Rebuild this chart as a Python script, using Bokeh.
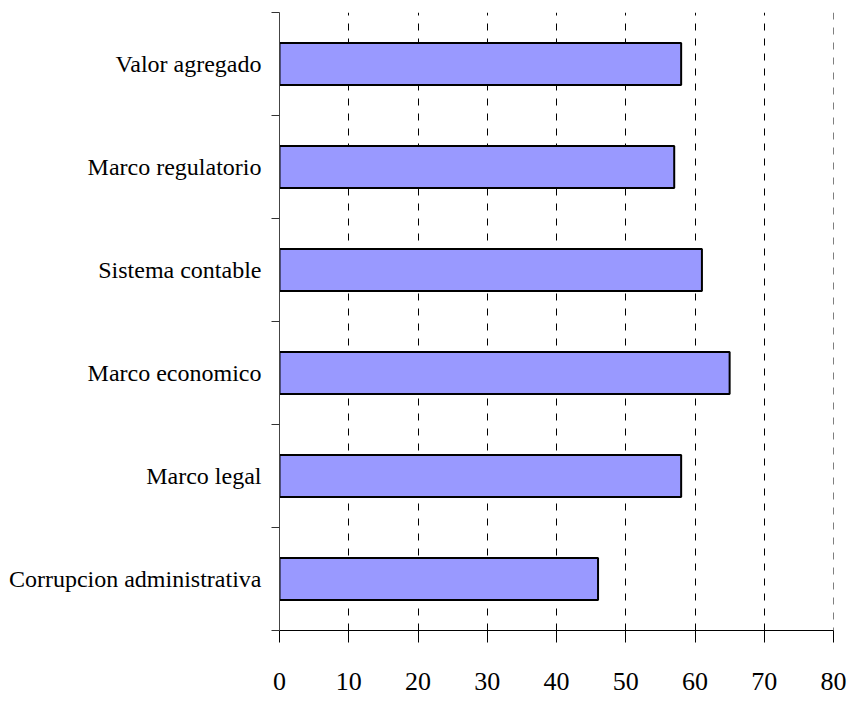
from bokeh.plotting import figure
from bokeh.models import Range1d, FixedTicker, ColumnDataSource, Span
from bokeh.embed import file_html
from bokeh.resources import INLINE

categories = ["Corrupcion administrativa", "Marco legal", "Marco economico",
              "Sistema contable", "Marco regulatorio", "Valor agregado"]
values = [46, 58, 65, 61, 57, 58]
x_ticks = [0, 10, 20, 30, 40, 50, 60, 70, 80]

pos = [i + 0.5 for i in range(len(categories))]
bounds = list(range(len(categories) + 1))
src = ColumnDataSource(dict(cat=categories, val=values, y=pos))

p = figure(width=851, height=700, output_backend="svg", toolbar_location=None,
           x_range=Range1d(0, 80), y_range=Range1d(0, len(categories)),
           min_border_left=279, min_border_right=18, min_border_top=12,
           min_border_bottom=70)
p.outline_line_color = None
p.background_fill_color = "white"

p.hbar(y="y", right="val", left=0, height=0.41, fill_color="#9999FF",
       line_color="black", line_width=2, source=src)

# y axis
ya = p.yaxis[0]
ya.ticker = FixedTicker(ticks=pos, minor_ticks=bounds)
ya.major_label_overrides = {y: c for y, c in zip(pos, categories)}
ya.major_tick_line_color = None
ya.major_tick_out = 8
ya.major_tick_in = 0
ya.minor_tick_out = 8
ya.minor_tick_in = 0
ya.minor_tick_line_color = "#333333"
ya.axis_line_color = "#444444"
ya.major_label_text_font = "Liberation Serif"
ya.major_label_text_font_size = "24px"
ya.major_label_text_color = "black"
ya.major_label_standoff = 10

# x axis
xa = p.xaxis[0]
xa.ticker = FixedTicker(ticks=x_ticks)
xa.major_tick_out = 12
xa.major_tick_in = 0
xa.minor_tick_line_color = None
xa.axis_line_color = "black"
xa.major_tick_line_color = "black"
xa.major_label_text_font = "Liberation Serif"
xa.major_label_text_font_size = "26px"
xa.major_label_text_color = "black"
xa.major_label_standoff = 30

p.ygrid.visible = False
p.xgrid.ticker = FixedTicker(ticks=x_ticks[1:])
p.xgrid.grid_line_color = "black"
p.xgrid.grid_line_dash = "7 8"
p.xgrid.grid_line_width = 1
p.add_layout(Span(location=x_ticks[-1], dimension="height", line_color="black",
                  line_dash="7 8", line_width=1))

open("out.html", "w").write(file_html(p, INLINE))
